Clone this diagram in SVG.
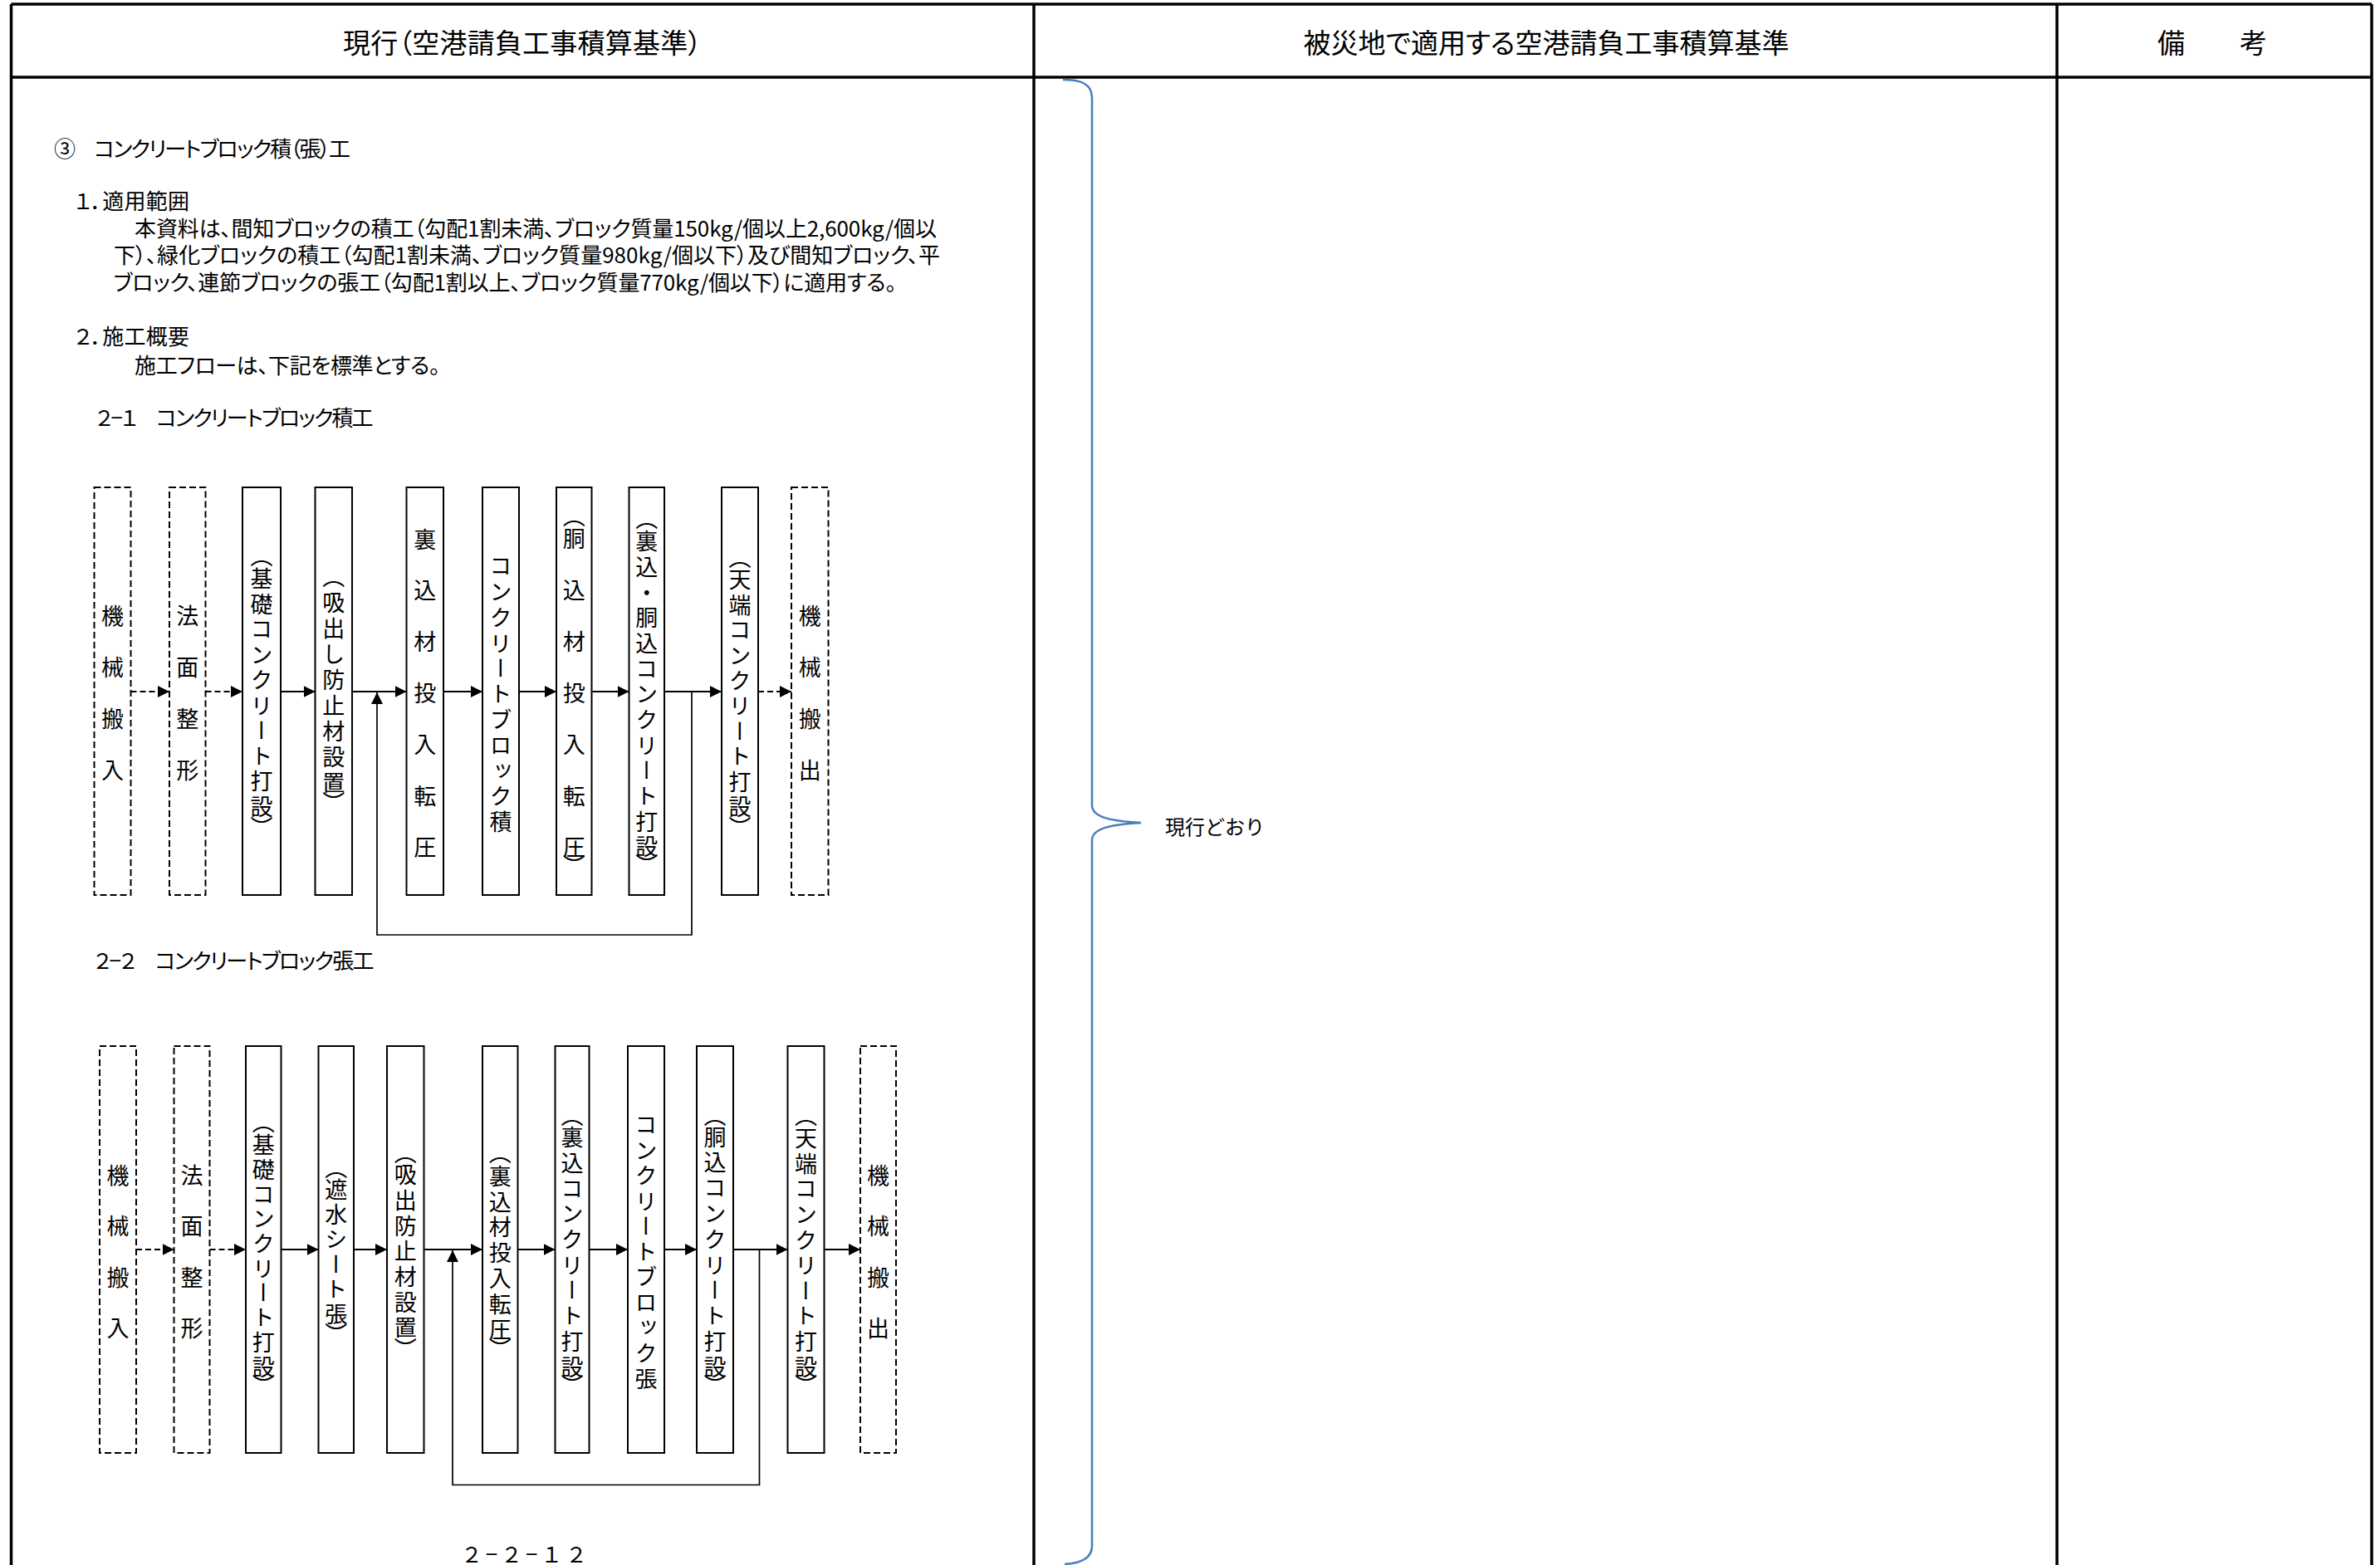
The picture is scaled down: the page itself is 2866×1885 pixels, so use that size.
<svg xmlns="http://www.w3.org/2000/svg" width="2866" height="1885" viewBox="0 0 2866 1885">
<defs>
<style>
.tbl{stroke:#000;stroke-width:3.5;fill:none}
.box{fill:#fff;stroke:#000;stroke-width:2}
.dbox{fill:#fff;stroke:#000;stroke-width:2;stroke-dasharray:8 4}
.vt{font-family:"Noto Sans CJK JP","Noto Sans CJK SC",sans-serif;font-size:27px;writing-mode:vertical-rl;text-anchor:middle;fill:#000}
.t{font-family:"Noto Sans CJK JP","Noto Sans CJK SC",sans-serif;font-size:26px;dominant-baseline:central;font-feature-settings:"palt";fill:#000}
.h{font-family:"Noto Sans CJK JP","Noto Sans CJK SC",sans-serif;font-size:33px;dominant-baseline:central;font-feature-settings:"palt";fill:#000}
.ln{stroke:#000;stroke-width:2;fill:none;marker-end:url(#ah)}
.dl{stroke:#000;stroke-width:2;fill:none;stroke-dasharray:7 4;marker-end:url(#ah)}
.lp{stroke:#000;stroke-width:1.7;fill:none;marker-end:url(#ah)}
.brace{stroke:#4A7EBB;stroke-width:2.5;fill:none}
</style>
<marker id="ah" markerUnits="userSpaceOnUse" markerWidth="14" markerHeight="14" viewBox="0 0 13 13" refX="13" refY="6.5" orient="auto">
<path d="M0,0 L13,6.5 L0,13 z" fill="#000"/>
</marker>
</defs>
<rect width="2866" height="1885" fill="#fff"/>

<g id="table">
<path class="tbl" d="M13.5,5 H2856 M13.5,93 H2856 M13.5,5 V1885 M2856,5 V1885 M1245,5 V1885 M2477,5 V1885"/>
<text class="h" x="629" y="50" text-anchor="middle" textLength="432" lengthAdjust="spacing">現行（空港請負工事積算基準）</text>
<text class="h" x="1862" y="50" text-anchor="middle">被災地で適用する空港請負工事積算基準</text>
<text class="h" x="2598" y="50">備　　考</text>
</g>

<g id="body-text">
<text class="t" x="65" y="177" textLength="357" lengthAdjust="spacing">③　コンクリートブロック積（張）工</text>
<text class="t" x="90" y="240.5" textLength="138" lengthAdjust="spacing">１．適用範囲</text>
<text class="t" x="162" y="273" textLength="966" lengthAdjust="spacing">本資料は、間知ブロックの積工（勾配1割未満、ブロック質量150kg/個以上2,600kg/個以</text>
<text class="t" x="137" y="305" textLength="995" lengthAdjust="spacing">下）、緑化ブロックの積工（勾配1割未満、ブロック質量980kg/個以下）及び間知ブロック、平</text>
<text class="t" x="136.5" y="338" textLength="943" lengthAdjust="spacing">ブロック、連節ブロックの張工（勾配1割以上、ブロック質量770kg/個以下）に適用する。</text>
<text class="t" x="90" y="403" textLength="138" lengthAdjust="spacing">２．施工概要</text>
<text class="t" x="162" y="438.5" textLength="368" lengthAdjust="spacing">施工フローは、下記を標準とする。</text>
<text class="t" x="115.6" y="501" textLength="334" lengthAdjust="spacing">２−１　コンクリートブロック積工</text>
<text class="t" x="113.5" y="1155.5" textLength="337" lengthAdjust="spacing">２−２　コンクリートブロック張工</text>
<text x="555" y="1882" font-family="Noto Sans CJK JP, sans-serif" font-size="26" textLength="152" lengthAdjust="spacing">２−２−１２</text>
</g>

<g id="d1-n1"><rect class="dbox" x="113.5" y="587" width="44" height="491"/><text class="vt" x="135.5" y="742 804 866 928">機械搬入</text></g>
<g id="d1-n2"><rect class="dbox" x="204" y="587" width="43.5" height="491"/><text class="vt" x="225.75" y="742 804 866 928">法面整形</text></g>
<g id="d1-n3"><rect class="box" x="292" y="587" width="46" height="491"/><text class="vt" x="315" y="670 697 727.5 758 788.5 819 849.5 880 910.5 941 971.5 996.5">（基礎コンクリート打設）</text></g>
<g id="d1-n4"><rect class="box" x="379.5" y="587" width="44.5" height="491"/><text class="vt" x="401.75" y="695 726 757 788 819 850 881 912 943 967">（吸出し防止材設置）</text></g>
<g id="d1-n5"><rect class="box" x="489.5" y="587" width="44.5" height="491"/><text class="vt" x="511.75" y="650 711 773 835 897 959 1021">裏込材投入転圧</text></g>
<g id="d1-n6"><rect class="box" x="581" y="587" width="44" height="491"/><text class="vt" x="603" y="682 712.8 743.6 774.4 805.2 836 866.8 897.6 928.4 959.2 990">コンクリートブロック積</text></g>
<g id="d1-n7"><rect class="box" x="670" y="587" width="42.5" height="491"/><text class="vt" x="691.25" y="622 649 711 773 835 897 959 1021 1043">（胴込材投入転圧）</text></g>
<g id="d1-n8"><rect class="box" x="757.5" y="587" width="42.5" height="491"/><text class="vt" x="778.75" y="625 652 682.7 713.3 744 774.7 805.3 836 866.7 897.3 928 958.7 989.3 1020 1042">（裏込・胴込コンクリート打設）</text></g>
<g id="d1-n9"><rect class="box" x="869" y="587" width="44" height="491"/><text class="vt" x="891" y="672 698 728.4 758.9 789.3 819.8 850.2 880.7 911.1 941.6 972 996.5">（天端コンクリート打設）</text></g>
<g id="d1-n10"><rect class="dbox" x="953" y="587" width="44.5" height="491"/><text class="vt" x="975.25" y="742 804 866 928">機械搬出</text></g>

<g id="d2-n1"><rect class="dbox" x="120" y="1260" width="44" height="490"/><text class="vt" x="142" y="1415.5 1477 1539 1600">機械搬入</text></g>
<g id="d2-n2"><rect class="dbox" x="209.5" y="1260" width="43" height="490"/><text class="vt" x="231" y="1415.5 1477 1539 1600">法面整形</text></g>
<g id="d2-n3"><rect class="box" x="296" y="1260" width="42.5" height="490"/><text class="vt" x="317.25" y="1352 1379 1408.7 1438.4 1468.1 1497.8 1527.5 1557.2 1586.9 1616.6 1646.3 1668.5">（基礎コンクリート打設）</text></g>
<g id="d2-n4"><rect class="box" x="383.5" y="1260" width="42.5" height="490"/><text class="vt" x="404.75" y="1406.5 1433 1463 1493 1523 1553 1583 1607">（遮水シート張）</text></g>
<g id="d2-n5"><rect class="box" x="466" y="1260" width="44.5" height="490"/><text class="vt" x="488.25" y="1389 1415 1445.7 1476.4 1507.1 1537.8 1568.5 1599.2 1625">（吸出防止材設置）</text></g>
<g id="d2-n6"><rect class="box" x="581" y="1260" width="42.5" height="490"/><text class="vt" x="602.25" y="1389 1416.6 1447.4 1478.2 1509 1539.8 1570.6 1601.4 1625">（裏込材投入転圧）</text></g>
<g id="d2-n7"><rect class="box" x="668.5" y="1260" width="41" height="490"/><text class="vt" x="689" y="1343.5 1370 1400.7 1431.4 1462.1 1492.8 1523.5 1554.2 1584.9 1615.6 1646.3 1668.5">（裏込コンクリート打設）</text></g>
<g id="d2-n8"><rect class="box" x="756" y="1260" width="44" height="490"/><text class="vt" x="778" y="1355 1385.5 1416 1446.5 1477 1507.5 1538 1568.5 1599 1629.5 1660.5">コンクリートブロック張</text></g>
<g id="d2-n9"><rect class="box" x="839" y="1260" width="44" height="490"/><text class="vt" x="861" y="1343.5 1369.3 1400.1 1430.9 1461.7 1492.5 1523.3 1554.1 1584.9 1615.7 1646.5 1668.5">（胴込コンクリート打設）</text></g>
<g id="d2-n10"><rect class="box" x="948.5" y="1260" width="44" height="490"/><text class="vt" x="970.5" y="1343.5 1371 1401.6 1432.2 1462.8 1493.4 1524 1554.6 1585.2 1615.8 1646.4 1668.5">（天端コンクリート打設）</text></g>
<g id="d2-n11"><rect class="dbox" x="1036" y="1260" width="43" height="490"/><text class="vt" x="1057.5" y="1415.5 1477 1539 1600">機械搬出</text></g>

<g id="note">
<path class="brace" d="M1280,96 C1300,96 1315,100 1315,118 V970 C1315,985 1340,989 1374,991 C1340,993 1315,997 1315,1012 V1862 C1315,1878 1300,1883 1282,1884"/>
<text x="1403" y="994.5" font-family="Noto Sans CJK JP, sans-serif" font-size="24" dominant-baseline="central">現行どおり</text>
</g>

<g id="connectors">
<path class="dl" d="M157.5,833 H204"/>
<path class="dl" d="M247.5,833 H292"/>
<path class="ln" d="M338,833 H379.5"/>
<path class="ln" d="M424,833 H489.5"/>
<path class="ln" d="M534,833 H581"/>
<path class="ln" d="M625,833 H670"/>
<path class="ln" d="M712.5,833 H757.5"/>
<path class="ln" d="M800,833 H869"/>
<path class="dl" d="M913,833 H953"/>
<path class="lp" d="M833,833 V1126 H454 V834"/>
<path class="dl" d="M164,1505 H209.5"/>
<path class="dl" d="M252.5,1505 H296"/>
<path class="ln" d="M338.5,1505 H383.5"/>
<path class="ln" d="M426,1505 H466"/>
<path class="ln" d="M510.5,1505 H581"/>
<path class="ln" d="M623.5,1505 H668.5"/>
<path class="ln" d="M709.5,1505 H756"/>
<path class="ln" d="M800,1505 H839"/>
<path class="ln" d="M883,1505 H948.5"/>
<path class="ln" d="M992.5,1505 H1036"/>
<path class="lp" d="M914.5,1505 V1788.5 H545 V1506"/>
</g>
</svg>
